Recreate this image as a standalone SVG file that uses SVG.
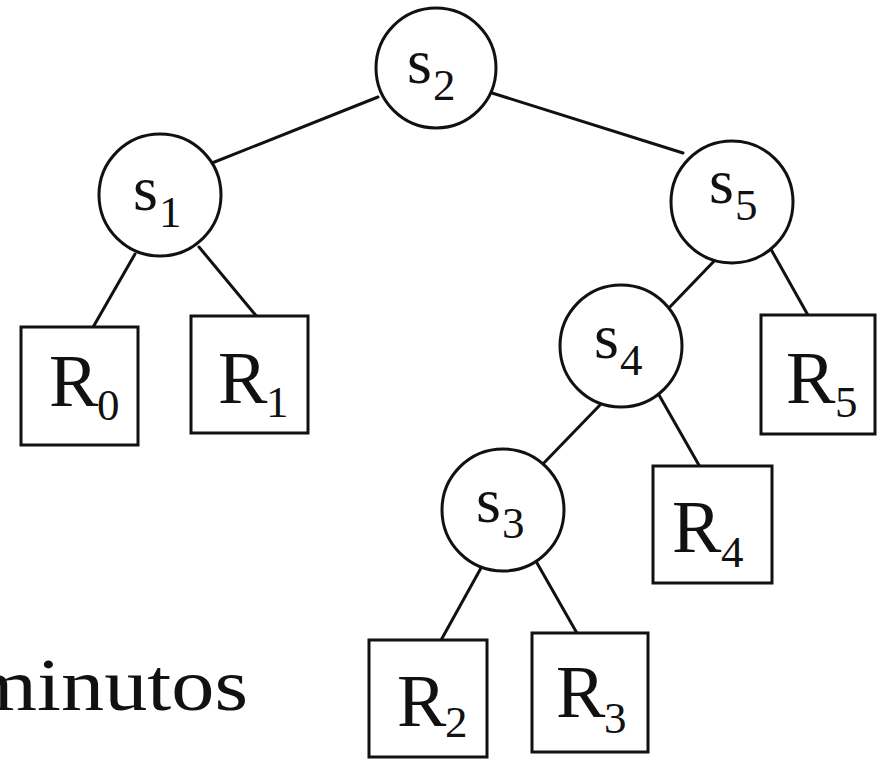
<svg xmlns="http://www.w3.org/2000/svg" width="877" height="759" viewBox="0 0 877 759">
  <style>
    .edge { stroke: #111; stroke-width: 3; fill: none; stroke-linecap: round; }
    .split { fill: #fff; stroke: #111; stroke-width: 3; }
    .leaf { fill: #fff; stroke: #111; stroke-width: 3; }
    .t { font-family: 'Liberation Serif', 'Times New Roman', serif; fill: #111; }
    .s { font-size: 64px; }
    .r { font-size: 74px; }
    .sub { font-size: 45px; }
  </style>
  <rect width="877" height="759" fill="#fff"/>

  <!-- tree edges -->
  <g id="edges">
    <line class="edge" x1="378" y1="97" x2="212" y2="163"/>
    <line class="edge" x1="492" y1="93" x2="683" y2="153"/>
    <line class="edge" x1="135" y1="254" x2="92" y2="329"/>
    <line class="edge" x1="199" y1="247" x2="258" y2="318"/>
    <line class="edge" x1="720" y1="255" x2="667" y2="310"/>
    <line class="edge" x1="768" y1="244" x2="809" y2="317"/>
    <line class="edge" x1="600" y1="405" x2="540" y2="467"/>
    <line class="edge" x1="659" y1="395" x2="700" y2="467"/>
    <line class="edge" x1="481" y1="568" x2="440" y2="642"/>
    <line class="edge" x1="537" y1="563" x2="578" y2="635"/>
  </g>

  <!-- split nodes -->
  <g id="s2">
    <circle class="split" cx="436" cy="68" r="60"/>
    <text class="t s" x="407" y="83">s</text>
    <text class="t sub" x="433" y="100">2</text>
  </g>
  <g id="s1">
    <circle class="split" cx="160" cy="195" r="61"/>
    <text class="t s" x="133" y="210">s</text>
    <text class="t sub" x="159" y="227">1</text>
  </g>
  <g id="s5">
    <circle class="split" cx="732" cy="202" r="61"/>
    <text class="t s" x="709" y="203">s</text>
    <text class="t sub" x="735" y="220">5</text>
  </g>
  <g id="s4">
    <circle class="split" cx="621" cy="346" r="61"/>
    <text class="t s" x="594" y="358">s</text>
    <text class="t sub" x="620" y="375">4</text>
  </g>
  <g id="s3">
    <circle class="split" cx="503" cy="510" r="61"/>
    <text class="t s" x="476" y="522">s</text>
    <text class="t sub" x="502" y="538">3</text>
  </g>

  <!-- leaf nodes -->
  <g id="R0">
    <rect class="leaf" x="21" y="327" width="117" height="118"/>
    <text class="t r" x="49" y="406">R</text>
    <text class="t sub" x="97" y="420">0</text>
  </g>
  <g id="R1">
    <rect class="leaf" x="191" y="316" width="117" height="117"/>
    <text class="t r" x="218" y="403">R</text>
    <text class="t sub" x="266" y="417">1</text>
  </g>
  <g id="R5">
    <rect class="leaf" x="761" y="315" width="114" height="119"/>
    <text class="t r" x="786" y="403">R</text>
    <text class="t sub" x="835" y="417">5</text>
  </g>
  <g id="R4">
    <rect class="leaf" x="653" y="466" width="119" height="117"/>
    <text class="t r" x="672" y="552">R</text>
    <text class="t sub" x="721" y="567">4</text>
  </g>
  <g id="R2">
    <rect class="leaf" x="369" y="640" width="118" height="117"/>
    <text class="t r" x="397" y="726">R</text>
    <text class="t sub" x="445" y="737">2</text>
  </g>
  <g id="R3">
    <rect class="leaf" x="532" y="633" width="116" height="119"/>
    <text class="t r" x="556" y="717">R</text>
    <text class="t sub" x="604" y="733">3</text>
  </g>

  <!-- caption running off the left edge -->
  <text class="t" x="-30" y="710" font-size="74" textLength="278" lengthAdjust="spacingAndGlyphs">minutos</text>
</svg>
